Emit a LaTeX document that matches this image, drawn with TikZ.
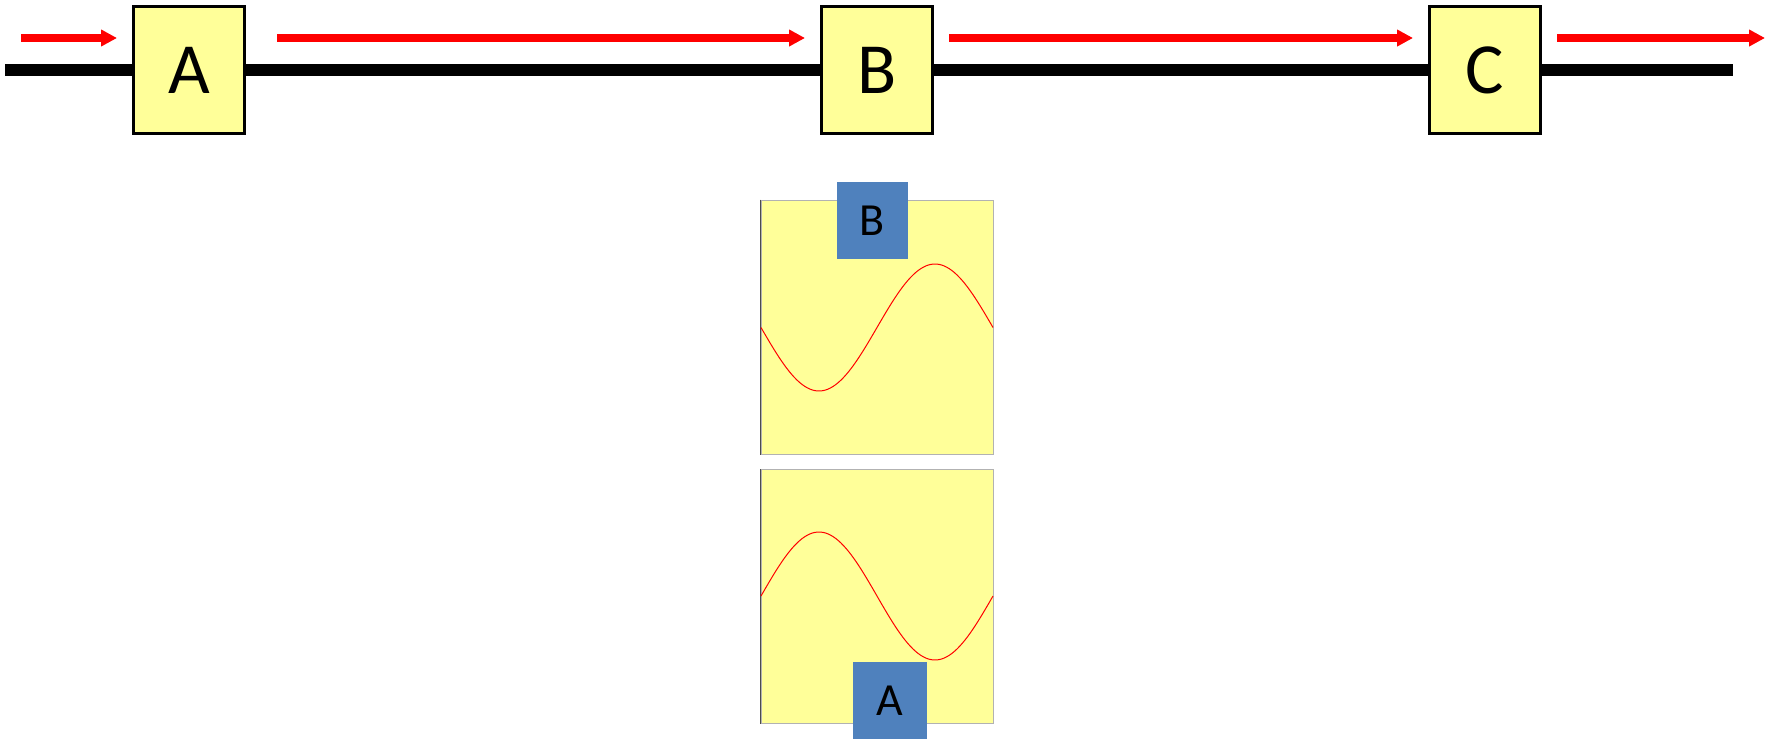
\documentclass[tikz,border=0pt]{standalone}
\usepackage{fontspec}
\setmainfont{Carlito}
\usetikzlibrary{arrows.meta,positioning,calc}
\pgfdeclarelayer{bg}
\pgfsetlayers{bg,main}
\definecolor{boxyellow}{RGB}{255,255,153}
\definecolor{tagblue}{RGB}{79,129,189}
\tikzset{
  stage/.style={draw=black, line width=1.5pt, fill=boxyellow, minimum width=55.5pt, minimum height=63.5pt, inner sep=0pt, font=\fontsize{36}{36}\selectfont},
  flow/.style={red, line width=4pt, -{Triangle[length=8pt,width=8pt]}},
  wire/.style={black, line width=6pt},
  panel/.style={fill=boxyellow, draw=black!30, line width=0.5pt, minimum width=116pt, minimum height=127pt, inner sep=0pt},
  tag/.style={fill=tagblue, inner sep=0pt, minimum height=38.5pt, font=\fontsize{23}{23}\selectfont},
  wave/.style={red, line width=0.5pt}
}

\begin{document}
\begin{tikzpicture}[x = 0.5pt, y = -0.5pt]
\useasboundingbox (0,0) rectangle (1768,740);

\node[stage] (A) at (189, 70) {A};
\node[stage] (B) at (877, 70) {B};
\node[stage] (C) at (1485, 70) {C};
\coordinate (in) at (5, 70);
\coordinate (out) at (1733, 70);
\coordinate (src) at (21, 38);
\coordinate (sink) at (1765, 38);

\begin{pgfonlayer}{bg}
\draw[wire] (in) -- (A) -- (B) -- (C) -- (out);
\end{pgfonlayer}

\draw[flow] (src) -- ([xshift=-7.5pt, yshift=16pt]A.west);
\draw[flow] ([xshift=15.5pt, yshift=16pt]A.east) -- ([xshift=-7.5pt, yshift=16pt]B.west);
\draw[flow] ([xshift=7.5pt, yshift=16pt]B.east) -- ([xshift=-7.5pt, yshift=16pt]C.west);
\draw[flow] ([xshift=7.5pt, yshift=16pt]C.east) -- (sink);

% wave panels
\node[panel] (panelB) at (877, 327) {};
\node[panel] (panelA) at (877, 596.5) {};
\draw[black!70, line width=0.5pt] (panelB.north west) -- (panelB.south west);
\draw[black!70, line width=0.5pt] (panelA.north west) -- (panelA.south west);

\draw[wave] plot[domain=0:360, samples=91] ({761+\x/360*232}, {327.5+63.5*sin(\x)});
\draw[wave] plot[domain=0:360, samples=91] ({761+\x/360*232}, {596-64*sin(\x)});

\node[tag, minimum width=35.5pt] (tagB) at (872.5, 220.5) {B};
\node[tag, minimum width=37pt] (tagA) at (890, 700.5) {A};

\end{tikzpicture}
\end{document}
